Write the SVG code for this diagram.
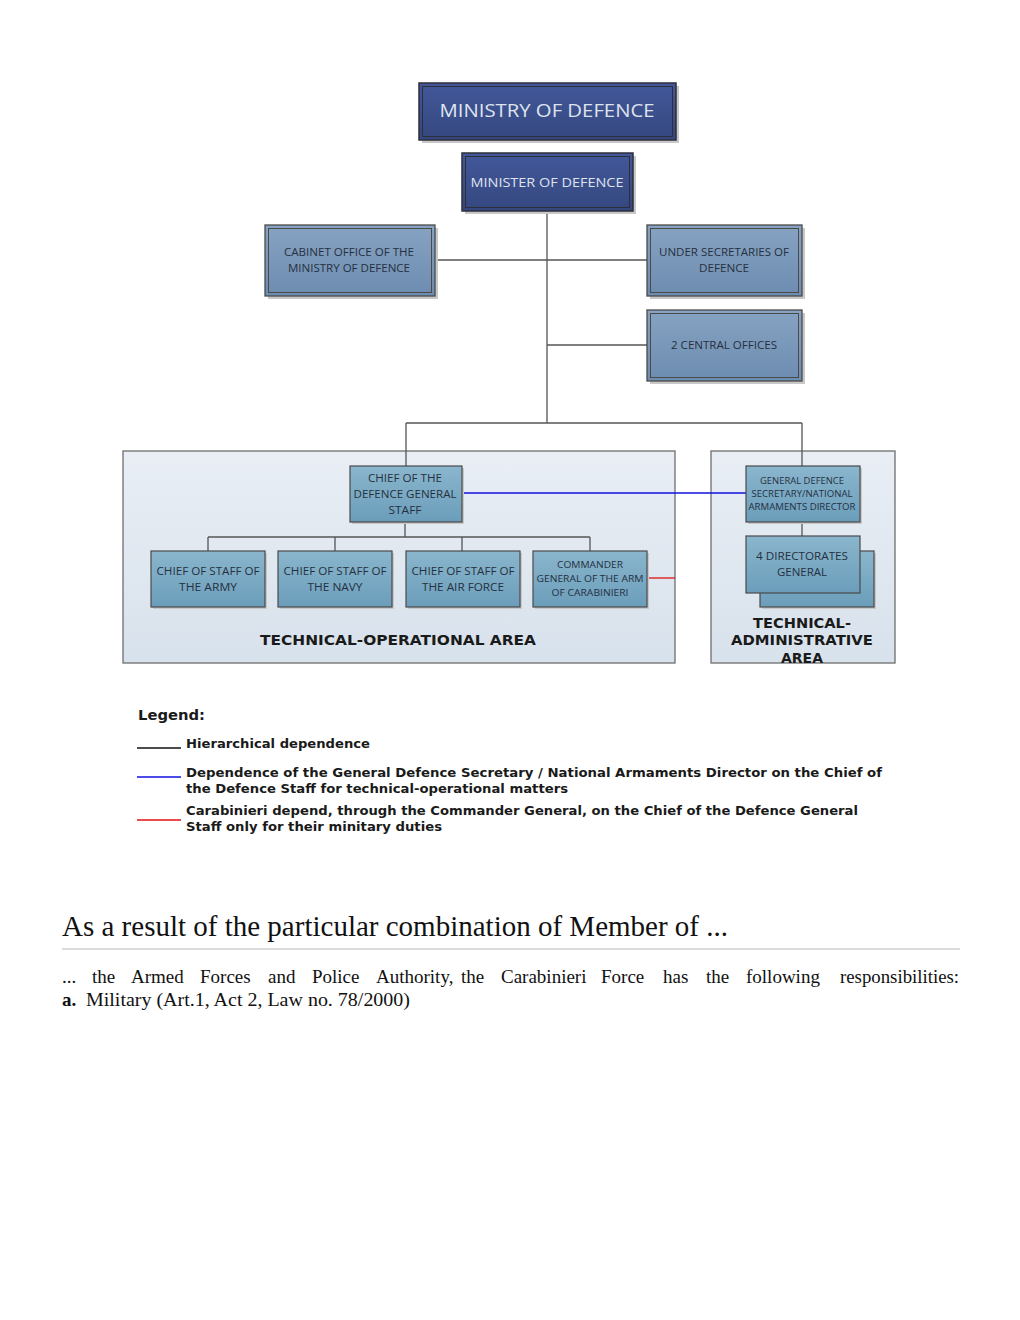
<svg xmlns="http://www.w3.org/2000/svg" width="1020" height="1320" viewBox="0 0 1020 1320">
<defs>
<linearGradient id="gDark" x1="0" y1="0" x2="0" y2="1"><stop offset="0" stop-color="#43589a"/><stop offset="1" stop-color="#34477f"/></linearGradient>
<linearGradient id="gMid" x1="0" y1="0" x2="0" y2="1"><stop offset="0" stop-color="#87a3c2"/><stop offset="1" stop-color="#6c8cb0"/></linearGradient>
<linearGradient id="gLow" x1="0" y1="0" x2="0" y2="1"><stop offset="0" stop-color="#8ab6cd"/><stop offset="1" stop-color="#6b9dba"/></linearGradient>
<linearGradient id="gArea" x1="0" y1="0" x2="0" y2="1"><stop offset="0" stop-color="#e9eef5"/><stop offset="1" stop-color="#d8e2ec"/></linearGradient>
<style>
.area{fill:url(#gArea);stroke:#6e6e6e;stroke-width:1.3}
.dark{fill:url(#gDark);stroke:#2e2e3a;stroke-width:1.5}
.darkin{fill:none;stroke:#2e2e3a;stroke-width:1}
.mid{fill:url(#gMid);stroke:#4a4a4a;stroke-width:1.3}
.midin{fill:none;stroke:#4a4a4a;stroke-width:1}
.low{fill:url(#gLow);stroke:#4a4a4a;stroke-width:1.2}
.shadow{fill:#c8c8c8}
.tl{font-family:"Open Sans","Liberation Sans",sans-serif;fill:#dfe3ee;text-anchor:middle}
.td{font-family:"Open Sans","Liberation Sans",sans-serif;fill:#26303f;text-anchor:middle}
.conn{stroke:#555;stroke-width:1.3;fill:none}
.bold{font-family:"DejaVu Sans",Verdana,sans-serif;font-weight:bold;fill:#1a1a1a}
.serif{font-family:"Liberation Serif","Times New Roman",serif;fill:#111}
</style>
</defs>
<rect width="1020" height="1320" fill="#ffffff"/>

<!-- areas -->
<g id="area-tech-op">
<rect class="area" x="123" y="451" width="552" height="212"/>
<text class="bold" x="398" y="645" font-size="14" text-anchor="middle" textLength="276" lengthAdjust="spacingAndGlyphs">TECHNICAL-OPERATIONAL AREA</text>
</g>
<g id="area-tech-adm">
<rect class="area" x="711" y="451" width="184" height="212"/>
<text class="bold" x="802" y="628" font-size="14" text-anchor="middle" textLength="98" lengthAdjust="spacingAndGlyphs">TECHNICAL-</text>
<text class="bold" x="802" y="645" font-size="14" text-anchor="middle" textLength="142" lengthAdjust="spacingAndGlyphs">ADMINISTRATIVE</text>
<text class="bold" x="802" y="663" font-size="14" text-anchor="middle" textLength="42" lengthAdjust="spacingAndGlyphs">AREA</text>
</g>

<!-- connectors -->
<g id="connectors">
<path class="conn" d="M547 211V423M435 260H647M547 345H647M406 423H802M406 423V466M802 423V466"/>
<path class="conn" d="M405 522V537M208 537H590M208 537V551M335 537V551M462 537V551M590 537V551"/>
<path class="conn" d="M802 522V536"/>
<path d="M462 493H746" stroke="#1010e0" stroke-width="1.3" fill="none"/>
<path d="M647 578H675" stroke="#e01010" stroke-width="1.3" fill="none"/>
</g>

<!-- nodes -->
<g id="ministry">
<rect class="shadow" x="422" y="86" width="257" height="57"/>
<rect class="dark" x="419" y="83" width="257" height="57"/>
<rect class="darkin" x="422.5" y="86.5" width="250" height="50"/>
<text class="tl" x="547" y="117" font-size="19" textLength="215" lengthAdjust="spacingAndGlyphs">MINISTRY OF DEFENCE</text>
</g>
<g id="minister">
<rect class="shadow" x="465" y="156" width="171" height="58"/>
<rect class="dark" x="462" y="153" width="171" height="58"/>
<rect class="darkin" x="465.5" y="156.5" width="164" height="51"/>
<text class="tl" x="547" y="187" font-size="13.5" textLength="153" lengthAdjust="spacingAndGlyphs">MINISTER OF DEFENCE</text>
</g>
<g id="cabinet">
<rect class="shadow" x="268" y="228" width="170" height="71"/>
<rect class="mid" x="265" y="225" width="170" height="71"/>
<rect class="midin" x="268.5" y="228.5" width="163" height="64"/>
<text class="td" x="349" y="256" font-size="11.5" textLength="130" lengthAdjust="spacingAndGlyphs">CABINET OFFICE OF THE</text>
<text class="td" x="349" y="272" font-size="11.5" textLength="122" lengthAdjust="spacingAndGlyphs">MINISTRY OF DEFENCE</text>
</g>
<g id="under-secretaries">
<rect class="shadow" x="650" y="228" width="155" height="71"/>
<rect class="mid" x="647" y="225" width="155" height="71"/>
<rect class="midin" x="650.5" y="228.5" width="148" height="64"/>
<text class="td" x="724" y="256" font-size="11.5" textLength="130" lengthAdjust="spacingAndGlyphs">UNDER SECRETARIES OF</text>
<text class="td" x="724" y="272" font-size="11.5" textLength="50" lengthAdjust="spacingAndGlyphs">DEFENCE</text>
</g>
<g id="central-offices">
<rect class="shadow" x="650" y="313" width="155" height="71"/>
<rect class="mid" x="647" y="310" width="155" height="71"/>
<rect class="midin" x="650.5" y="313.5" width="148" height="64"/>
<text class="td" x="724" y="349" font-size="11.5" textLength="106" lengthAdjust="spacingAndGlyphs">2 CENTRAL OFFICES</text>
</g>
<g id="chief-defence">
<rect class="shadow" x="352" y="468" width="112" height="56"/>
<rect class="low" x="350" y="466" width="112" height="56"/>
<text class="td" x="405" y="482" font-size="11.5" textLength="74" lengthAdjust="spacingAndGlyphs">CHIEF OF THE</text>
<text class="td" x="405" y="498" font-size="11.5" textLength="103" lengthAdjust="spacingAndGlyphs">DEFENCE GENERAL</text>
<text class="td" x="405" y="514" font-size="11.5" textLength="33" lengthAdjust="spacingAndGlyphs">STAFF</text>
</g>
<g id="army">
<rect class="shadow" x="153" y="553" width="114" height="56"/>
<rect class="low" x="151" y="551" width="114" height="56"/>
<text class="td" x="208" y="575" font-size="11.5" textLength="103" lengthAdjust="spacingAndGlyphs">CHIEF OF STAFF OF</text>
<text class="td" x="208" y="591" font-size="11.5" textLength="58" lengthAdjust="spacingAndGlyphs">THE ARMY</text>
</g>
<g id="navy">
<rect class="shadow" x="280" y="553" width="114" height="56"/>
<rect class="low" x="278" y="551" width="114" height="56"/>
<text class="td" x="335" y="575" font-size="11.5" textLength="103" lengthAdjust="spacingAndGlyphs">CHIEF OF STAFF OF</text>
<text class="td" x="335" y="591" font-size="11.5" textLength="55" lengthAdjust="spacingAndGlyphs">THE NAVY</text>
</g>
<g id="air-force">
<rect class="shadow" x="408" y="553" width="114" height="56"/>
<rect class="low" x="406" y="551" width="114" height="56"/>
<text class="td" x="463" y="575" font-size="11.5" textLength="103" lengthAdjust="spacingAndGlyphs">CHIEF OF STAFF OF</text>
<text class="td" x="463" y="591" font-size="11.5" textLength="82" lengthAdjust="spacingAndGlyphs">THE AIR FORCE</text>
</g>
<g id="carabinieri">
<rect class="shadow" x="535" y="553" width="114" height="56"/>
<rect class="low" x="533" y="551" width="114" height="56"/>
<text class="td" x="590" y="568" font-size="9.5" textLength="66" lengthAdjust="spacingAndGlyphs">COMMANDER</text>
<text class="td" x="590" y="582" font-size="9.5" textLength="107" lengthAdjust="spacingAndGlyphs">GENERAL OF THE ARM</text>
<text class="td" x="590" y="596" font-size="9.5" textLength="77" lengthAdjust="spacingAndGlyphs">OF CARABINIERI</text>
</g>
<g id="general-secretary">
<rect class="shadow" x="748" y="468" width="114" height="56"/>
<rect class="low" x="746" y="466" width="114" height="56"/>
<text class="td" x="802" y="484" font-size="9.5" textLength="84" lengthAdjust="spacingAndGlyphs">GENERAL DEFENCE</text>
<text class="td" x="802" y="497" font-size="9.5" textLength="101" lengthAdjust="spacingAndGlyphs">SECRETARY/NATIONAL</text>
<text class="td" x="802" y="510" font-size="9.5" textLength="107" lengthAdjust="spacingAndGlyphs">ARMAMENTS DIRECTOR</text>
</g>
<g id="directorates">
<rect class="shadow" x="762" y="553" width="114" height="56"/>
<rect class="low" x="760" y="551" width="114" height="56"/>
<rect class="low" x="746" y="536" width="114" height="57"/>
<text class="td" x="802" y="560" font-size="11.5" textLength="92" lengthAdjust="spacingAndGlyphs">4 DIRECTORATES</text>
<text class="td" x="802" y="576" font-size="11.5" textLength="50" lengthAdjust="spacingAndGlyphs">GENERAL</text>
</g>

<!-- legend -->
<g id="legend">
<text class="bold" x="138" y="720" font-size="14" textLength="67" lengthAdjust="spacingAndGlyphs">Legend:</text>
<line x1="137" y1="748" x2="181" y2="748" stroke="#111" stroke-width="1.3"/>
<text class="bold" x="186" y="748" font-size="12.5" textLength="184" lengthAdjust="spacingAndGlyphs">Hierarchical dependence</text>
<line x1="137" y1="777" x2="181" y2="777" stroke="#1010e0" stroke-width="1.3"/>
<text class="bold" x="186" y="777" font-size="12.5" textLength="696" lengthAdjust="spacingAndGlyphs">Dependence of the General Defence Secretary / National Armaments Director on the Chief of</text>
<text class="bold" x="186" y="793" font-size="12.5" textLength="382" lengthAdjust="spacingAndGlyphs">the Defence Staff for technical-operational matters</text>
<line x1="137" y1="820" x2="181" y2="820" stroke="#e01010" stroke-width="1.3"/>
<text class="bold" x="186" y="815" font-size="12.5" textLength="672" lengthAdjust="spacingAndGlyphs">Carabinieri depend, through the Commander General, on the Chief of the Defence General</text>
<text class="bold" x="186" y="831" font-size="12.5" textLength="256" lengthAdjust="spacingAndGlyphs">Staff only for their minitary duties</text>
</g>

<!-- article text -->
<g id="article">
<text class="serif" x="62" y="936" font-size="29" textLength="666" lengthAdjust="spacingAndGlyphs">As a result of the particular combination of Member of ...</text>
<line x1="62" y1="949" x2="960" y2="949" stroke="#cfcfcf" stroke-width="1.3"/>
<g class="serif" font-size="19">
<text x="62" y="983">...</text>
<text x="92" y="983">the</text>
<text x="131" y="983">Armed</text>
<text x="200" y="983">Forces</text>
<text x="268" y="983">and</text>
<text x="312" y="983">Police</text>
<text x="376" y="983">Authority,</text>
<text x="461" y="983">the</text>
<text x="501" y="983">Carabinieri</text>
<text x="601" y="983">Force</text>
<text x="663" y="983">has</text>
<text x="706" y="983">the</text>
<text x="746" y="983">following</text>
<text x="840" y="983" textLength="119" lengthAdjust="spacingAndGlyphs">responsibilities:</text>
<text x="62" y="1006" font-weight="bold">a.</text>
<text x="86" y="1006" textLength="324" lengthAdjust="spacingAndGlyphs">Military (Art.1, Act 2, Law no. 78/2000)</text>
</g>
</g>
</svg>
